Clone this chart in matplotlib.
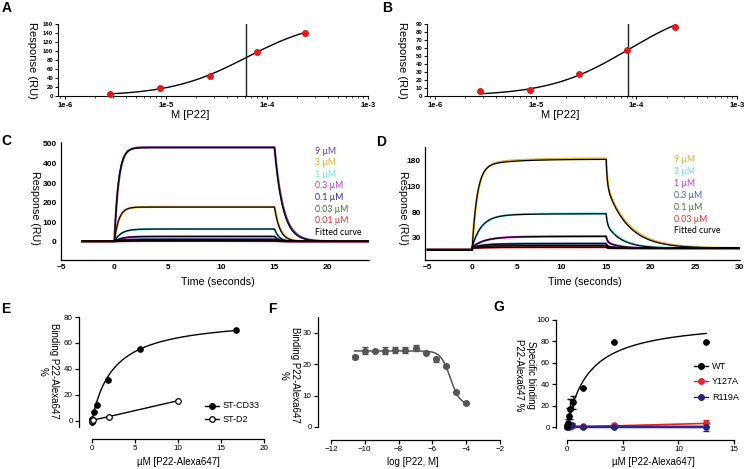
import numpy as np
import matplotlib
matplotlib.use("Agg")
import matplotlib.pyplot as plt
from matplotlib.lines import Line2D

plt.rcParams['font.family'] = ['Liberation Sans', 'DejaVu Sans']

# ---- data ----
# A / B : steady state SPR
conc_a = [2.8e-6, 8.8e-6, 2.7e-5, 7.9e-5, 2.4e-4]
resp_a = [4, 17, 45, 98, 139]
err_a = [2, 1.5, 2, 3, 3]
fit_a = dict(rmax=172, kd=6.3e-5, n=1.15)

conc_b = [2.8e-6, 8.8e-6, 2.7e-5, 8.0e-5, 2.4e-4]
resp_b = [6, 7, 27, 57, 86]
err_b = [1, 1.5, 1, 1.5, 1.5]
fit_b = dict(rmax=116, kd=8.3e-5, n=1.1)

# C : sensorgrams (plateau RU, kon, koff)
labels_c = ['9 µM', '3 µM', '1 µM', '0.3 µM', '0.1 µM', '0.03 µM', '0.01 µM']
colors_c = ['#6e3b8e', '#e3b12c', '#63e3ee', '#cc35cc', '#2b2bb3', '#3e7a2a', '#e03434']
plateau_c = [478, 175, 63, 25, 10, 5, 2]
kon_c = [2.6, 2.4, 1.6, 1.4, 1.3, 1.2, 1.2]
koff_c = [1.3, 2.0, 2.4, 2.4, 2.4, 2.4, 2.4]

# D : sensorgrams (bulk jump, fast amp, slow amp, k fast, drop at 15 s, koff)
labels_d = ['9 µM', '3 µM', '1 µM', '0.3 µM', '0.1 µM', '0.03 µM']
colors_d = ['#e3b12c', '#63e3ee', '#cc35cc', '#4262c4', '#3e7a2a', '#e03434']
jump_d = [6, 6, 5, 4, 4, 3]
fast_d = [155, 58, 17, 6, 3, 1]
slow_d = [15, 6, 4, 2, 1, 1]
kfast_d = [1.8, 1.0, 0.8, 1.0, 1.0, 1.0]
drop_d = [50, 20, 10, 5, 4, 2]
koff_d = [0.42, 0.6, 0.8, 1.0, 1.0, 1.0]

# E : cell binding
cd33_x = [0, 0.02, 0.06, 0.2, 0.6, 1.85, 5.6, 16.7]
cd33_y = [-1, 0.5, 1.5, 6.5, 12.5, 31.5, 55.5, 70]
d2_x = [0, 0.07, 2.0, 10.0]
d2_y = [-0.5, 0.5, 3.3, 15.5]
fit_e = dict(bmax=80, kd=2.5)

# F : competition
logc_f = [-10.6, -10.0, -9.4, -8.8, -8.2, -7.6, -7.0, -6.4, -5.8, -5.2, -4.6, -4.0]
bind_f = [22.3, 24.3, 24.2, 24.3, 24.5, 24.5, 25.1, 23.7, 21.6, 19.3, 11.0, 7.7]
err_f = [0.7, 1.0, 0.3, 1.0, 0.8, 0.8, 1.0, 0.3, 0.8, 0.3, 0.3, 0.3]
fit_f = dict(top=24.2, bottom=7.0, logic50=-4.94, hill=1.54)

# G : mutants
wt_x = [0.01, 0.05, 0.15, 0.3, 0.5, 1.4, 4.2, 12.5]
wt_y = [1, 4, 10, 17, 23, 36.5, 79, 79.5]
wt_e = [2, 4, 8, 9, 6, 0, 0, 0]
mut_x = [0.02, 0.15, 0.46, 1.39, 4.17, 12.5]
y127_y = [0.5, 1.5, 1, 1, 2, 4]
y127_e = [1, 1, 1, 0.5, 1, 3]
r119_y = [0, 0.5, 2, 0, 0, 0]
r119_e = [1, 1, 2, 1, 1, 4]
fit_g = dict(bmax=101, kd=1.94)
y127_line = [0, 3.5]
r119_line = [0.3, 0.2]

W, H = 747, 469


def box(x0, y0, x1, y1):
    return [x0 / W, 1 - y1 / H, (x1 - x0) / W, (y1 - y0) / H]


def ftext(x, y, s, **kw):
    fig.text(x / W, 1 - y / H, s, **kw)


def hill(c, rmax, kd, n):
    c = np.asarray(c)
    return rmax * c**n / (kd**n + c**n)


fig = plt.figure(figsize=(7.47, 4.69), dpi=100)

# ---------------- A and B ----------------
for name, bx, xl, conc, resp, err, fit, ymax, ystep, vline, lx in [
        ('A', (58, 24, 368, 96), 10**-6.07, conc_a, resp_a, err_a, fit_a, 160, 20, 6.2e-5, 0),
        ('B', (427, 24, 737, 96), 10**-6.08, conc_b, resp_b, err_b, fit_b, 90, 10, 8.3e-5, 370)]:
    ax = fig.add_axes(box(*bx))
    ax.set_xscale('log')
    ax.set_xlim(xl, 1e-3)
    ax.set_ylim(0, ymax)
    cc = np.logspace(np.log10(conc[0]), np.log10(conc[-1]), 200)
    ax.plot(cc, hill(cc, **fit), color='black', lw=1.0)
    ax.errorbar(conc, resp, yerr=err, fmt='o', color='#e3191c', ms=4,
                elinewidth=1, capsize=1.5, zorder=3, clip_on=False)
    ax.axvline(vline, color='#222222', lw=1.0)
    ax.set_xticks([1e-6, 1e-5, 1e-4, 1e-3])
    ax.set_xticklabels(['1e-6', '1e-5', '1e-4', '1e-3'])
    ax.set_yticks(np.arange(0, ymax + 1, ystep))
    ax.tick_params(axis='x', which='major', length=2.5, width=0.7, labelsize=5.5, pad=1.5)
    ax.tick_params(axis='x', which='minor', length=1.5, width=0.5)
    ax.tick_params(axis='y', length=2, width=0.7, labelsize=4.3, pad=1.5)
    for lab in ax.get_xticklabels() + ax.get_yticklabels():
        lab.set_fontweight('bold')
    for s in ['top', 'right']:
        ax.spines[s].set_visible(False)
    for s in ['left', 'bottom']:
        ax.spines[s].set_linewidth(0.8)
    ftext(lx + 32, 60, 'Response (RU)', rotation=270, ha='center', va='center', fontsize=8)
    ftext(lx + 190, 115, 'M [P22]', ha='center', va='center', fontsize=8)

# ---------------- C ----------------
axC = fig.add_axes(box(61, 142, 369, 260))
tc = np.linspace(-3, 24, 1500)


def sens_c(t, plateau, kon, koff, base=3.0):
    ta = np.clip(t, 0, 15)
    r = plateau * (1 - np.exp(-kon * ta))
    r15 = plateau * (1 - np.exp(-kon * 15))
    r = np.where(t > 15, r15 * np.exp(-koff * (t - 15)), r)
    return base + r


for p, kon, koff, col in zip(plateau_c, kon_c, koff_c, colors_c):
    axC.plot(tc, sens_c(tc, p * 1.005, kon * 0.95, koff * 0.95), color=col, lw=1.6)
for p, kon, koff in zip(plateau_c, kon_c, koff_c):
    axC.plot(tc, sens_c(tc, p, kon, koff), color='black', lw=0.9)
axC.set_xlim(-5, 23.85)
axC.set_ylim(-92, 510)
axC.set_xticks([-5, 0, 5, 10, 15, 20])
axC.set_yticks([0, 100, 200, 300, 400, 500])

# ---------------- D ----------------
axD = fig.add_axes(box(425, 147, 740, 260))
td = np.linspace(-5, 30, 1800)


def sens_d(t, jump, fast, slow, kf, drop, koff, base=7.0, end=10.0):
    ta = np.clip(t, 0, 15)
    r = base + jump + fast * (1 - np.exp(-kf * ta)) + slow * (1 - np.exp(-0.3 * ta))
    r = np.where(t < 0, base, r)
    r15 = base + jump + fast * (1 - np.exp(-kf * 15)) + slow * (1 - np.exp(-0.3 * 15))
    dt = np.clip(t - 15, 0, None)
    rd = end + drop * np.exp(-8 * dt) + (r15 - drop - end) * np.exp(-koff * dt)
    return np.where(t > 15, rd, r)


for args, col in zip(zip(jump_d, fast_d, slow_d, kfast_d, drop_d, koff_d), colors_d):
    j, f, s, kf, dr, ko = args
    axD.plot(td, sens_d(td, j, f * 1.01, s, kf * 0.95, dr, ko * 0.95), color=col, lw=1.6)
for args in zip(jump_d, fast_d, slow_d, kfast_d, drop_d, koff_d):
    axD.plot(td, sens_d(td, *args), color='black', lw=0.9)
axD.set_xlim(-5.3, 30)
axD.set_ylim(-13, 207)
axD.set_xticks([-5, 0, 5, 10, 15, 20, 25, 30])
axD.set_yticks([30, 80, 130, 180])

for ax in (axC, axD):
    for s in ['top', 'right']:
        ax.spines[s].set_visible(False)
    for s in ['left', 'bottom']:
        ax.spines[s].set_linewidth(0.9)
    ax.tick_params(length=0, labelsize=6, pad=3)
    for lab in ax.get_xticklabels() + ax.get_yticklabels():
        lab.set_fontweight('bold')

ftext(35, 208, 'Response (RU)', rotation=270, ha='center', va='center', fontsize=7.7)
ftext(218, 282, 'Time (seconds)', ha='center', va='center', fontsize=7.7)
ftext(403, 208, 'Response (RU)', rotation=270, ha='center', va='center', fontsize=7.7)
ftext(585, 282, 'Time (seconds)', ha='center', va='center', fontsize=7.7)

for i, (lab, col) in enumerate(zip(labels_c + ['Fitted curve'], colors_c + ['black'])):
    ftext(315, 151 + i * 11.6, lab, color=col, fontsize=6.3, va='center', family='Lato')
for i, (lab, col) in enumerate(zip(labels_d + ['Fitted curve'], colors_d + ['black'])):
    ftext(674, 160 + i * 11.8, lab, color=col, fontsize=6.3, va='center', family='Lato')


def prism(ax, xb, yb):
    for s in ['top', 'right']:
        ax.spines[s].set_visible(False)
    ax.spines['left'].set_bounds(*yb)
    ax.spines['bottom'].set_bounds(*xb)
    for s in ['left', 'bottom']:
        ax.spines[s].set_linewidth(0.9)
    ax.tick_params(length=3, width=0.9, labelsize=5.8, pad=1.5)


def legend_item(ax, x, y, text, **style):
    # x, y in pixels
    ax.add_line(Line2D([(x - 7) / W, (x + 7) / W], [1 - y / H] * 2, transform=fig.transFigure,
                       color=style.get('color', 'black'), lw=1.0, clip_on=False))
    ax.add_line(Line2D([x / W], [1 - y / H], transform=fig.transFigure, marker='o',
                       ms=4, clip_on=False, **style))
    ftext(x + 11, y, text, fontsize=6.5, va='center')


# ---------------- E ----------------
axE = fig.add_axes(box(79, 317, 264, 439))
xe = np.linspace(0, cd33_x[-1], 200)
axE.plot(xe, fit_e['bmax'] * xe / (fit_e['kd'] + xe), color='black', lw=1.0)
axE.plot(cd33_x, cd33_y, 'o', color='black', ms=3.8, clip_on=False)
axE.plot(d2_x, d2_y, '-', color='black', lw=1.0)
axE.plot(d2_x, d2_y, 'o', mfc='white', mec='black', mew=0.9, ms=4, clip_on=False)
axE.set_xlim(-1.5, 20)
axE.set_ylim(-14, 80)
axE.set_xticks([0, 5, 10, 15, 20])
axE.set_yticks([0, 20, 40, 60, 80])
prism(axE, (0, 20), (-5, 80))
legend_item(axE, 212, 406, 'ST-CD33', color='black')
legend_item(axE, 212, 419, 'ST-D2', color='black', mfc='white', mec='black', mew=0.9)
ftext(48, 371, 'Binding P22-Alexa647\n%', rotation=270, ha='center', va='center',
      fontsize=7, linespacing=1.2, multialignment='center')
ftext(178, 462, 'µM [P22-Alexa647]', ha='center', va='center', fontsize=7)

# ---------------- F ----------------
axF = fig.add_axes(box(318, 317, 500, 440))
xf = np.linspace(logc_f[0], logc_f[-1], 200)
yf = fit_f['bottom'] + (fit_f['top'] - fit_f['bottom']) / (
    1 + 10 ** ((xf - fit_f['logic50']) * fit_f['hill']))
axF.plot(xf, yf, color='#555555', lw=1.1)
axF.errorbar(logc_f, bind_f, yerr=err_f, fmt='o', color='#555555', ms=4,
             elinewidth=1, capsize=2, capthick=1)
axF.set_xlim(-12.77, -2)
axF.set_ylim(-4.15, 35)
axF.set_xticks([-12, -10, -8, -6, -4, -2])
axF.set_yticks([0, 10, 20, 30])
prism(axF, (-12, -2), (0, 35))
ftext(289, 375, 'Binding P22-Alexa647\n%', rotation=270, ha='center', va='center',
      fontsize=7, linespacing=1.2, multialignment='center')
ftext(413, 462, 'log [P22, M]', ha='center', va='center', fontsize=7)

# ---------------- G ----------------
axG = fig.add_axes(box(556, 320, 734, 440))
xg = np.linspace(0, 12.5, 200)
axG.plot(xg, fit_g['bmax'] * xg / (fit_g['kd'] + xg), color='black', lw=1.0)
axG.plot([0, 12.5], y127_line, color='#e3262b', lw=1.2)
axG.plot([0, 12.5], r119_line, color='#2b2b8f', lw=2.0)
axG.errorbar(mut_x, y127_y, yerr=y127_e, fmt='o', color='#e3262b', ms=3.8,
             elinewidth=1, capsize=2)
axG.errorbar(mut_x, r119_y, yerr=r119_e, fmt='o', color='#22227f', ms=3.8,
             elinewidth=1, capsize=2)
axG.errorbar(wt_x, wt_y, yerr=wt_e, fmt='o', color='black', ms=3.8,
             elinewidth=1, capsize=2)
axG.set_xlim(-1, 15)
axG.set_ylim(-12, 100)
axG.set_xticks([0, 5, 10, 15])
axG.set_yticks([0, 20, 40, 60, 80, 100])
prism(axG, (0, 15), (-1, 100))
legend_item(axG, 701, 366, 'WT', color='black')
legend_item(axG, 701, 381, 'Y127A', color='#e3262b')
legend_item(axG, 701, 397, 'R119A', color='#22227f')
ftext(525, 375, 'Specific binding\nP22-Alexa647 %', rotation=270, ha='center', va='center',
      fontsize=7, linespacing=1.2, multialignment='center')
ftext(653, 462, 'µM [P22-Alexa647]', ha='center', va='center', fontsize=7)

# panel letters
for letter, x, y in [('A', 7, 8), ('B', 387, 8), ('C', 6, 141), ('D', 381, 142),
                     ('E', 6, 309), ('F', 272, 309), ('G', 499, 307)]:
    ftext(x, y, letter, fontsize=10, fontweight='bold', ha='center', va='center')

fig.savefig('out.png', dpi=100)
